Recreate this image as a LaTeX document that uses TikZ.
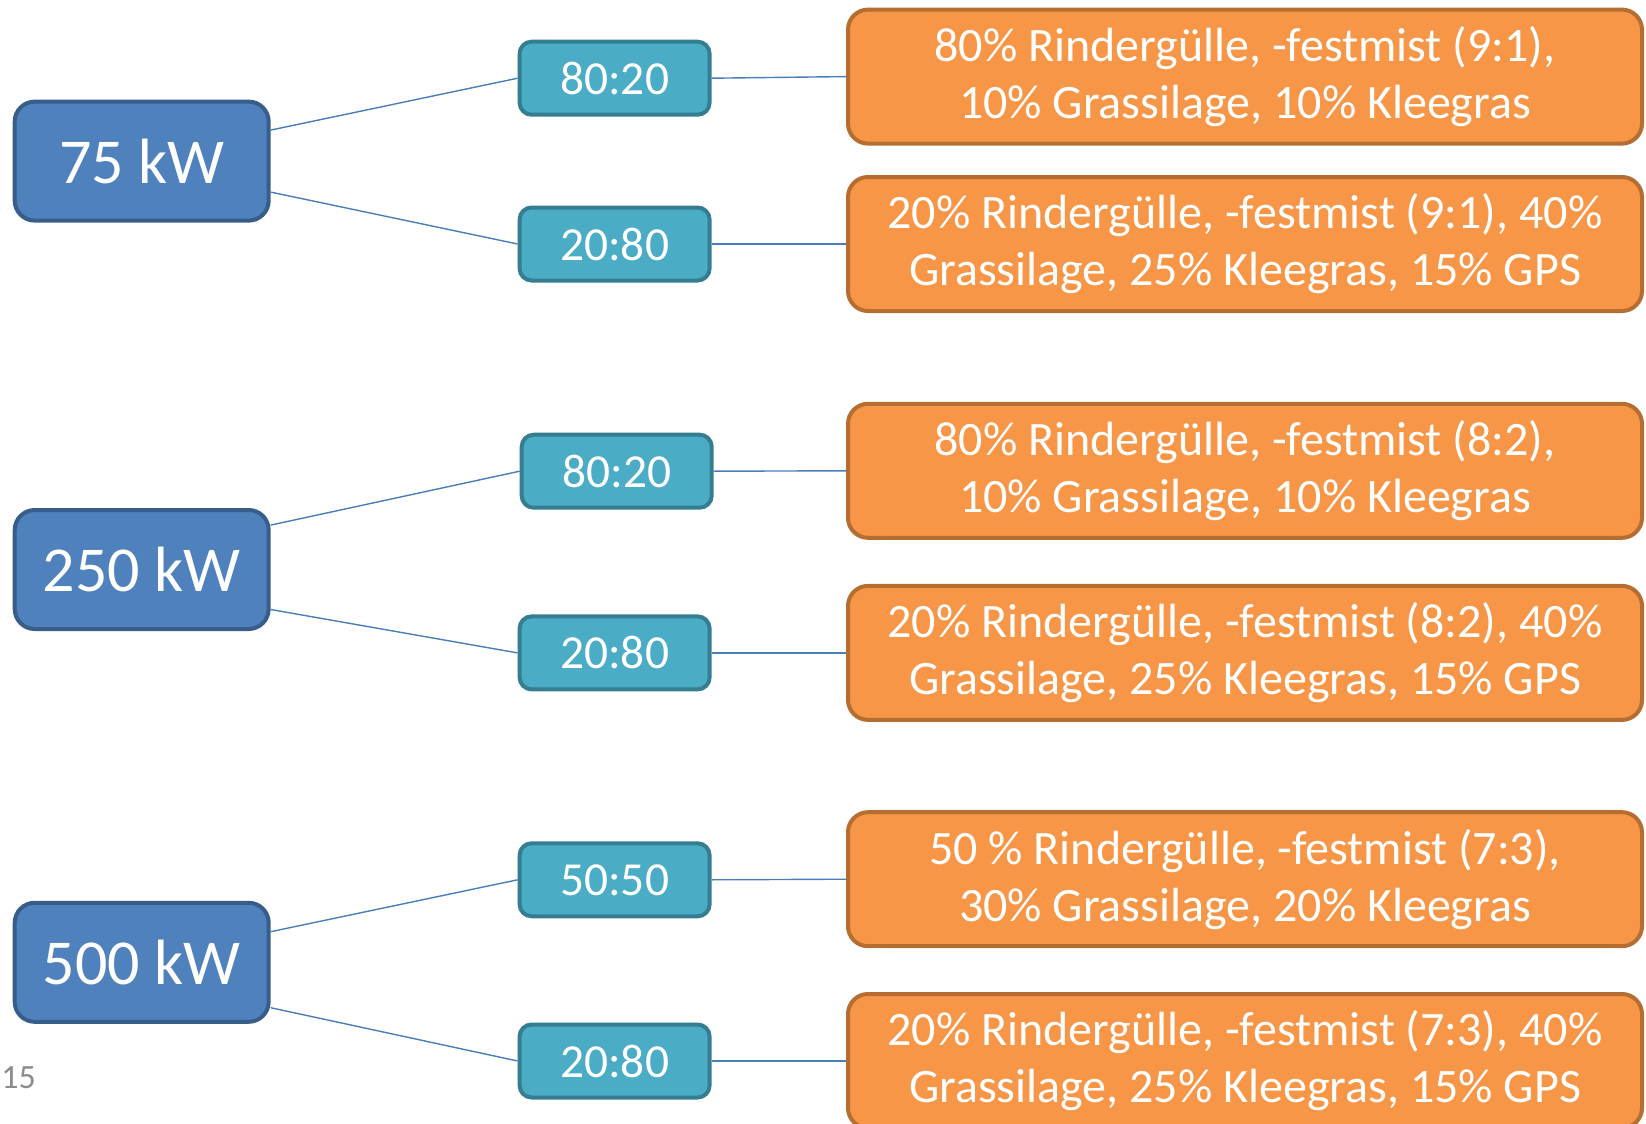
\documentclass[tikz,border=0pt]{standalone}
\usepackage{fontspec}
\setmainfont{Carlito}
\definecolor{pfill}{HTML}{4F81BD}
\definecolor{pdraw}{HTML}{385D8A}
\definecolor{cfill}{HTML}{4BACC6}
\definecolor{cdraw}{HTML}{357D91}
\definecolor{ofill}{HTML}{F79646}
\definecolor{odraw}{HTML}{B66D31}
\definecolor{conn}{HTML}{4A7EBB}
\definecolor{pgnum}{HTML}{8C8C8C}
\tikzset{
  parentbox/.style={draw=pdraw, fill=pfill, line width=2pt, rounded corners=10pt,
    minimum width=127pt, minimum height=59.5pt, inner sep=0pt, text=white,
    font=\fontsize{32}{38}\selectfont},
  childbox/.style={draw=cdraw, fill=cfill, line width=2pt, rounded corners=6pt,
    minimum width=95pt, minimum height=36.5pt, inner sep=0pt, text=white,
    font=\fontsize{23.7}{28}\selectfont},
  mixbox/.style={draw=odraw, fill=ofill, line width=2pt, rounded corners=10pt,
    minimum width=397pt, minimum height=67pt, inner sep=0pt, text=white, align=center,
    font=\fontsize{24}{28.5}\selectfont},
  link/.style={draw=conn, line width=0.7pt},
}
\begin{document}
\begin{tikzpicture}[x=0.5pt, y=-0.5pt]
\useasboundingbox (0,0) rectangle (1646,1124);
\begin{scope}
\clip (0,0) rectangle (1646,1124);
% parents
\node[parentbox] (p1) at (141.7,161.1) {75 kW};
\node[parentbox] (p2) at (141.7,569.5) {250 kW};
\node[parentbox] (p3) at (141.7,962.3) {500 kW};
% children
\node[childbox] (a1) at (614.6,78.2) {80:20};
\node[childbox] (a2) at (614.6,244.0) {20:80};
\node[childbox] (b1) at (616.7,471.2) {80:20};
\node[childbox] (b2) at (614.6,652.9) {20:80};
\node[childbox] (c1) at (614.6,879.8) {50:50};
\node[childbox] (c2) at (614.6,1061.0) {20:80};
% mixtures
\node[mixbox] (o1) at (1245,76.6) {80\% Rindergülle, -festmist (9:1),\\10\% Grassilage, 10\% Kleegras};
\node[mixbox] (o2) at (1245,244.0) {20\% Rindergülle, -festmist (9:1), 40\%\\Grassilage, 25\% Kleegras, 15\% GPS};
\node[mixbox] (o3) at (1245,470.8) {80\% Rindergülle, -festmist (8:2),\\10\% Grassilage, 10\% Kleegras};
\node[mixbox] (o4) at (1245,652.9) {20\% Rindergülle, -festmist (8:2), 40\%\\Grassilage, 25\% Kleegras, 15\% GPS};
\node[mixbox] (o5) at (1245,879.2) {50 \% Rindergülle, -festmist (7:3),\\30\% Grassilage, 20\% Kleegras};
\node[mixbox] (o6) at (1245,1061.0) {20\% Rindergülle, -festmist (7:3), 40\%\\Grassilage, 25\% Kleegras, 15\% GPS};
% connectors
\path[link] ([yshift=15.5pt]p1.east) -- (a1.west);
\path[link] ([yshift=-15.5pt]p1.east) -- (a2.west);
\path[link] ([yshift=22.2pt]p2.east) -- (b1.west);
\path[link] ([yshift=-20pt]p2.east) -- (b2.west);
\path[link] ([yshift=15.3pt]p3.east) -- (c1.west);
\path[link] ([yshift=-22.7pt]p3.east) -- (c2.west);
\path[link] (a1.east) -- (o1.west);
\path[link] (a2.east) -- (o2.west);
\path[link] (b1.east) -- (o3.west);
\path[link] (b2.east) -- (o4.west);
\path[link] (c1.east) -- (o5.west);
\path[link] (c2.east) -- (o6.west);
% page number fragment
\node[anchor=base west, inner sep=0pt, text=pgnum, font=\fontsize{17}{20}\selectfont] (pg) at (1,1088) {15};
\end{scope}
\end{tikzpicture}
\end{document}
